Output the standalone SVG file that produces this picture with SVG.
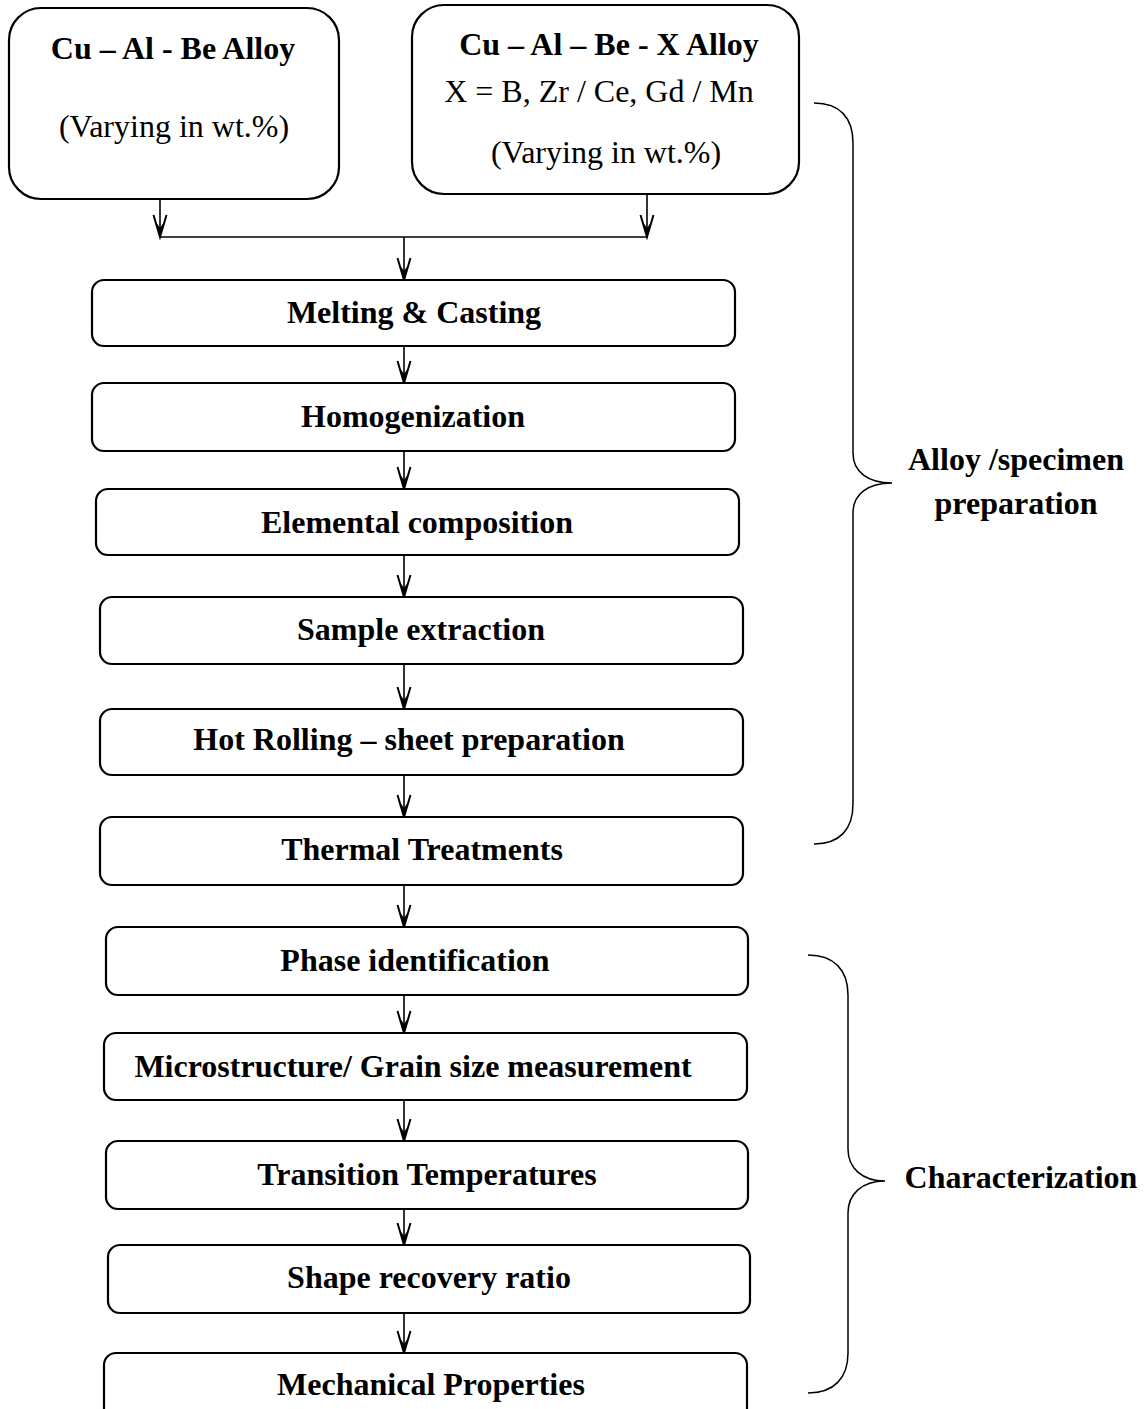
<svg xmlns="http://www.w3.org/2000/svg" width="1148" height="1409" viewBox="0 0 1148 1409">
<defs>
<style>
.box{fill:#fff;stroke:#000;stroke-width:2.2}
.t{font-family:"Liberation Serif","Times New Roman",serif;font-size:32px;fill:#000;text-anchor:middle}
.b{font-weight:bold}
.conn{stroke:#000;stroke-width:1.6;fill:none}
.brace{stroke:#000;stroke-width:1.5;fill:none}
</style>
<marker id="arr" markerUnits="userSpaceOnUse" markerWidth="30" markerHeight="20" refX="0" refY="0" viewBox="-24 -10 26 20" orient="auto">
<path d="M-22,-6.5 L0,0 L-22,6.5" fill="none" stroke="#000" stroke-width="2"/>
<path d="M0,0 L-14,-3.5 L-9,0 L-14,3.5 Z" fill="#000"/>
</marker>
</defs>
<rect width="1148" height="1409" fill="#fff"/>

<g id="connectors">
<line class="conn" x1="160" y1="199" x2="160" y2="237" marker-end="url(#arr)"/>
<line class="conn" x1="647" y1="194" x2="647" y2="237" marker-end="url(#arr)"/>
<line class="conn" x1="160" y1="237" x2="647" y2="237"/>
<line class="conn" x1="404" y1="237" x2="404" y2="280" marker-end="url(#arr)"/>
<line class="conn" x1="404" y1="346" x2="404" y2="383" marker-end="url(#arr)"/>
<line class="conn" x1="404" y1="451" x2="404" y2="489" marker-end="url(#arr)"/>
<line class="conn" x1="404" y1="555" x2="404" y2="597" marker-end="url(#arr)"/>
<line class="conn" x1="404" y1="664" x2="404" y2="709" marker-end="url(#arr)"/>
<line class="conn" x1="404" y1="775" x2="404" y2="817" marker-end="url(#arr)"/>
<line class="conn" x1="404" y1="885" x2="404" y2="927" marker-end="url(#arr)"/>
<line class="conn" x1="404" y1="995" x2="404" y2="1033" marker-end="url(#arr)"/>
<line class="conn" x1="404" y1="1100" x2="404" y2="1141" marker-end="url(#arr)"/>
<line class="conn" x1="404" y1="1209" x2="404" y2="1245" marker-end="url(#arr)"/>
<line class="conn" x1="404" y1="1313" x2="404" y2="1353" marker-end="url(#arr)"/>
</g>

<g id="alloy1">
<rect class="box" x="9" y="8" width="330" height="191" rx="32"/>
<text class="t b" x="173" y="59">Cu – Al - Be Alloy</text>
<text class="t" x="174" y="137">(Varying in wt.%)</text>
</g>
<g id="alloy2">
<rect class="box" x="412" y="5" width="387" height="189" rx="32"/>
<text class="t b" x="609" y="55">Cu – Al – Be - X Alloy</text>
<text class="t" x="599" y="102">X = B, Zr / Ce, Gd / Mn</text>
<text class="t" x="606" y="163">(Varying in wt.%)</text>
</g>

<g id="melting">
<rect class="box" x="92" y="280" width="643" height="66" rx="12"/>
<text class="t b" x="414" y="323">Melting &amp; Casting</text>
</g>
<g id="homogenization">
<rect class="box" x="92" y="383" width="643" height="68" rx="12"/>
<text class="t b" x="413" y="427">Homogenization</text>
</g>
<g id="elemental">
<rect class="box" x="96" y="489" width="643" height="66" rx="12"/>
<text class="t b" x="417" y="533">Elemental composition</text>
</g>
<g id="sample">
<rect class="box" x="100" y="597" width="643" height="67" rx="12"/>
<text class="t b" x="421" y="640">Sample extraction</text>
</g>
<g id="hotrolling">
<rect class="box" x="100" y="709" width="643" height="66" rx="12"/>
<text class="t b" x="409" y="750">Hot Rolling – sheet preparation</text>
</g>
<g id="thermal">
<rect class="box" x="100" y="817" width="643" height="68" rx="12"/>
<text class="t b" x="422" y="860">Thermal Treatments</text>
</g>
<g id="phase">
<rect class="box" x="106" y="927" width="642" height="68" rx="12"/>
<text class="t b" x="415" y="971">Phase identification</text>
</g>
<g id="microstructure">
<rect class="box" x="104" y="1033" width="643" height="67" rx="12"/>
<text class="t b" x="413" y="1077">Microstructure/ Grain size measurement</text>
</g>
<g id="transition">
<rect class="box" x="106" y="1141" width="642" height="68" rx="12"/>
<text class="t b" x="427" y="1185">Transition Temperatures</text>
</g>
<g id="shape">
<rect class="box" x="108" y="1245" width="642" height="68" rx="12"/>
<text class="t b" x="429" y="1288">Shape recovery ratio</text>
</g>
<g id="mechanical">
<rect class="box" x="104" y="1353" width="643" height="70" rx="12"/>
<text class="t b" x="431" y="1395">Mechanical Properties</text>
</g>

<g id="brace-preparation">
<path class="brace" d="M814,103 C840,103 853,118 853,143 L853,453 C853,472 868,483 892,483 C868,483 853,494 853,513 L853,804 C853,829 840,844 814,844"/>
<text class="t b" x="1016" y="470">Alloy /specimen</text>
<text class="t b" x="1016" y="514">preparation</text>
</g>
<g id="brace-characterization">
<path class="brace" d="M808,955 C834,955 848,970 848,995 L848,1149 C848,1168 862,1181 885,1181 C862,1181 848,1194 848,1213 L848,1353 C848,1378 834,1393 808,1393"/>
<text class="t b" x="1021" y="1188">Characterization</text>
</g>
</svg>
